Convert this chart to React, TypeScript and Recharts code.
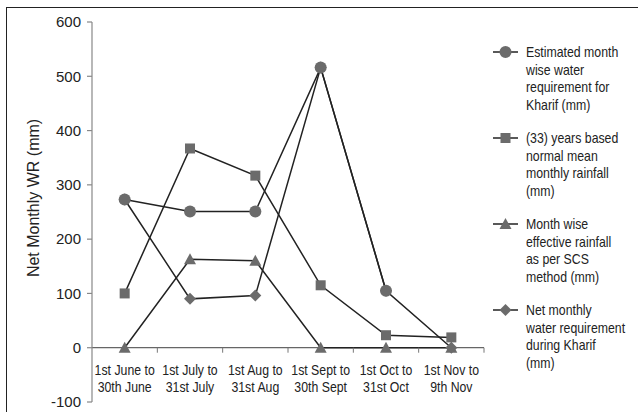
import React from "react";
import { LineChart, Line, XAxis, YAxis, ReferenceLine } from "recharts";

const categories = [
  "1st June to 30th June",
  "1st July to 31st July",
  "1st Aug to 31st Aug",
  "1st Sept to 30th Sept",
  "1st Oct to 31st Oct",
  "1st Nov to 9th Nov",
];
const estimatedWR: (number | null)[] = [273, 251, 251, 516, 105, null];
const normalRainfall: (number | null)[] = [100, 367, 317, 115, 23, 19];
const effectiveRainfall: (number | null)[] = [0, 163, 160, 0, 0, 0];
const netWR: (number | null)[] = [273, 90, 96, 516, 105, 0];
const yTicks = [-100, 0, 100, 200, 300, 400, 500, 600];

const seriesNames = [
  "Estimated month wise water requirement for Kharif (mm)",
  "(33) years based normal mean monthly rainfall (mm)",
  "Month wise effective rainfall as per SCS method (mm)",
  "Net monthly water requirement during Kharif (mm)",
];
const legendLines = [
  ["Estimated month", "wise water", "requirement for", "Kharif (mm)"],
  ["(33) years based", "normal mean", "monthly rainfall", "(mm)"],
  ["Month wise", "effective rainfall", "as per SCS", "method (mm)"],
  ["Net monthly", "water requirement", "during Kharif", "(mm)"],
];
const markerKinds = ["circle", "square", "triangle", "diamond"];

const data = categories.map((c, i) => ({
  cat: c,
  est: estimatedWR[i],
  rain: normalRainfall[i],
  eff: effectiveRainfall[i],
  net: netWR[i],
}));

const W = 638;
const H = 412;
const M_TOP = 22;
const M_BOTTOM = 9;
const X_AXIS_H = 1;
const PLOT_LEFT = 92;
const PLOT_RIGHT = 484;
const Y_MIN = -100;
const Y_MAX = 600;
const PLOT_H = H - M_TOP - M_BOTTOM - X_AXIS_H;
const ZERO_Y = M_TOP + (PLOT_H * (Y_MAX - 0)) / (Y_MAX - Y_MIN);
const BAND = (PLOT_RIGHT - PLOT_LEFT) / categories.length;

const MARK_FILL = "#6b6b6b";
const LINE_COLOR = "#222";
const REGULAR = "'Liberation Sans', Arial, sans-serif";
const NARROW_SCALE = 0.82;

function Marker({ kind, cx, cy }: { kind: string; cx: number; cy: number }) {
  if (kind === "circle") return <circle cx={cx} cy={cy} r={6} fill={MARK_FILL} />;
  if (kind === "square") return <rect x={cx - 5} y={cy - 5} width={10} height={10} fill={MARK_FILL} />;
  if (kind === "triangle")
    return <polygon points={`${cx},${cy - 6} ${cx - 6},${cy + 5} ${cx + 6},${cy + 5}`} fill={MARK_FILL} />;
  return <polygon points={`${cx},${cy - 6} ${cx + 6},${cy} ${cx},${cy + 6} ${cx - 6},${cy}`} fill={MARK_FILL} />;
}

const makeDot = (kind: string) => (props: any) => {
  const { cx, cy, index, value } = props;
  if (cx == null || cy == null || value == null || Number.isNaN(cy)) return <g key={`${kind}-${index}`} />;
  return (
    <g key={`${kind}-${index}`}>
      <Marker kind={kind} cx={cx} cy={cy} />
    </g>
  );
};

function XTick(props: any) {
  const { x, payload } = props;
  const label: string = payload.value;
  const k = label.indexOf(" to ");
  const l1 = label.slice(0, k + 3);
  const l2 = label.slice(k + 4);
  return (
    <g>
      <line x1={x + BAND / 2} x2={x + BAND / 2} y1={ZERO_Y} y2={ZERO_Y + 5} stroke="#777" strokeWidth={1} />
      <g transform={`translate(${x} 0) scale(${NARROW_SCALE} 1)`}>
        <text x={0} y={ZERO_Y + 27} textAnchor="middle" fontFamily={REGULAR} fontSize={15} fill="#222">
          {l1}
        </text>
        <text x={0} y={ZERO_Y + 44} textAnchor="middle" fontFamily={REGULAR} fontSize={15} fill="#222">
          {l2}
        </text>
      </g>
    </g>
  );
}

export default function App() {
  const keys = ["est", "rain", "eff", "net"];
  return (
    <div style={{ position: "absolute", left: 0, top: 0, width: W, height: H, overflow: "hidden", background: "#fff" }}>
      <div
        style={{
          position: "absolute",
          left: 6,
          top: 7,
          width: 800,
          height: 600,
          border: "1.5px solid #222",
        }}
      />
      <div style={{ position: "absolute", left: 0, top: 0 }}>
        <LineChart
          width={W}
          height={H}
          data={data}
          margin={{ top: M_TOP, right: W - PLOT_RIGHT, bottom: M_BOTTOM, left: 12 }}
        >
          <XAxis
            dataKey="cat"
            scale="band"
            height={X_AXIS_H}
            axisLine={false}
            tickLine={false}
            interval={0}
            tick={(p: any) => <XTick {...p} />}
          />
          <YAxis
            width={80}
            domain={[Y_MIN, Y_MAX]}
            ticks={yTicks}
            interval={0}
            axisLine={{ stroke: "#888", strokeWidth: 1.2 }}
            tickLine={{ stroke: "#888", strokeWidth: 1.2 }}
            tickSize={5}
            tickMargin={6}
            tick={{ fill: "#222", fontSize: 15, fontFamily: REGULAR }}
          />
          <ReferenceLine y={0} stroke="#666" strokeWidth={1.2} />
          {keys.map((k, i) => (
            <Line
              key={k}
              dataKey={k}
              name={seriesNames[i]}
              stroke={LINE_COLOR}
              strokeWidth={1.5}
              dot={makeDot(markerKinds[i])}
              activeDot={false}
              isAnimationActive={false}
              connectNulls={false}
            />
          ))}
        </LineChart>
      </div>
      <svg style={{ position: "absolute", left: 0, top: 0 }} width={W} height={H} pointerEvents="none">
        <text
          x={33}
          y={198}
          transform="rotate(-90 33 198)"
          textAnchor="middle"
          dominantBaseline="central"
          fontFamily={REGULAR}
          fontSize={16}
          fill="#222"
        >
          Net Monthly WR (mm)
        </text>
      </svg>
      {legendLines.map((lines, i) => (
        <div
          key={i}
          style={{
            position: "absolute",
            left: 491,
            top: 43 + i * 86,
            display: "flex",
            alignItems: "flex-start",
          }}
        >
          <svg width={32} height={18} style={{ display: "block" }}>
            <line x1={2} x2={27} y1={9} y2={9} stroke={LINE_COLOR} strokeWidth={1.5} />
            <Marker kind={markerKinds[i]} cx={14.5} cy={9} />
          </svg>
          <div
            style={{
              marginLeft: 3,
              fontFamily: REGULAR,
              fontSize: 15,
              lineHeight: "17.5px",
              color: "#222",
              whiteSpace: "nowrap",
              transform: `scaleX(${NARROW_SCALE})`,
              transformOrigin: "left top",
            }}
          >
            {lines.map((t, j) => (
              <div key={j}>{t}</div>
            ))}
          </div>
        </div>
      ))}
    </div>
  );
}
